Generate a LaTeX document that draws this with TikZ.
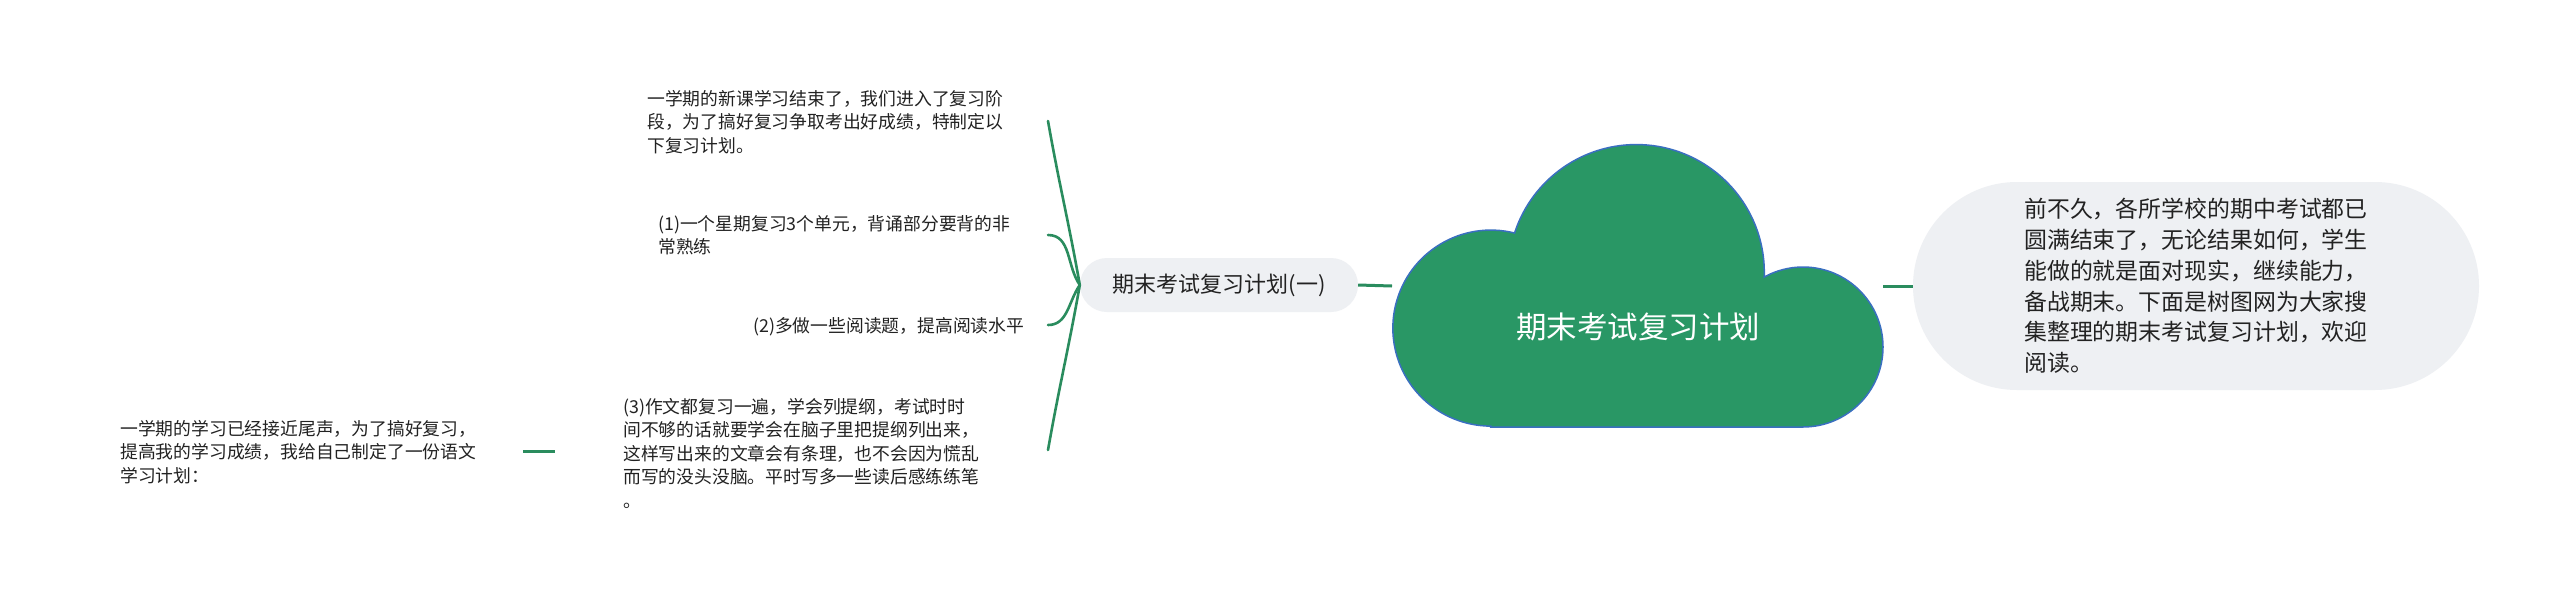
\documentclass[tikz,border=0pt]{standalone}
\usepackage{fontspec}
\setmainfont{Noto Sans CJK SC}
\definecolor{ink}{HTML}{222222}
\definecolor{branch}{HTML}{2A8C5E}
\definecolor{cloudfill}{HTML}{299765}
\definecolor{cloudedge}{HTML}{3A6FC0}
\definecolor{pillfill}{HTML}{EEF0F3}
\begin{document}
\begin{tikzpicture}[x=1pt,y=1pt,
  txt/.style={inner sep=0pt, align=left, anchor=west, text=ink, font=\fontsize{17.8pt}{23.5pt}\selectfont},
  conn/.style={draw=branch, line width=3pt},
  curve/.style={draw=branch, line width=2.6pt, line cap=round},
  pillbox/.style={fill=pillfill, inner sep=0pt, text=ink}]
\fill[white] (0,0) rectangle (2560,-595);
\useasboundingbox (0,0) rectangle (2560,-595);

% central cloud
\draw[fill=cloudfill, draw=cloudedge, line width=1.5pt]
  (1490.7,-427) -- (1803,-427) arc[start angle=-90, end angle=119, radius=80]
  arc[start angle=-2, end angle=162, radius=128]
  arc[start angle=76, end angle=270, radius=98] -- cycle;
\node[text=white, inner sep=0pt, font=\fontsize{30.5pt}{36pt}\selectfont] (root) at (1638,-327) {期末考试复习计划};
\coordinate (cL) at (1392,-286);
\coordinate (cR) at (1883,-286);

% branch node
\node[pillbox, minimum width=278pt, minimum height=54pt, rounded corners=27pt, font=\fontsize{22pt}{26pt}\selectfont] (p1) at (1219,-285) {期末考试复习计划(一)};

% intro node
\node[pillbox, minimum width=566pt, minimum height=208pt, rounded corners=104pt, align=left, font=\fontsize{22.9pt}{30.8pt}\selectfont] (intro) at (2196,-286) {前不久，各所学校的期中考试都已\\圆满结束了，无论结果如何，学生\\能做的就是面对现实，继续能力，\\备战期末。下面是树图网为大家搜\\集整理的期末考试复习计划，欢迎\\阅读。};

% leaf texts
\node[txt] (t1) at (647,-121.7) {一学期的新课学习结束了，我们进入了复习阶\\段，为了搞好复习争取考出好成绩，特制定以\\下复习计划。};
\node[txt] (t2) at (658,-235) {(1)一个星期复习3个单元，背诵部分要背的非\\常熟练};
\node[txt] (t3) at (753,-327) {(2)多做一些阅读题，提高阅读水平};
\node[txt] (t4) at (623,-453) {(3)作文都复习一遍，学会列提纲，考试时时\\间不够的话就要学会在脑子里把提纲列出来，\\这样写出来的文章会有条理，也不会因为慌乱\\而写的没头没脑。平时写多一些读后感练练笔\\。};
\node[txt] (t5) at (120,-452) {一学期的学习已经接近尾声，为了搞好复习，\\提高我的学习成绩，我给自己制定了一份语文\\学习计划：};

% connector ends
\coordinate (e1) at (1048,-121);
\coordinate (e2) at (1048,-235);
\coordinate (e3) at (1048,-325);
\coordinate (e4) at (1048,-450);
\coordinate (s1) at (523,-451);
\coordinate (s2) at (555,-451);

% connectors
\draw[conn] (p1.east) -- (cL);
\draw[conn] (cR) -- (intro.west);
\draw[conn] (s1) -- (s2);
\draw[curve] (p1.west) to[out=100, in=-80] (e1);
\draw[curve] (p1.west) to[out=125, in=0] (e2);
\draw[curve] (p1.west) to[out=235, in=0] (e3);
\draw[curve] (p1.west) to[out=-100, in=80] (e4);
\end{tikzpicture}
\end{document}
